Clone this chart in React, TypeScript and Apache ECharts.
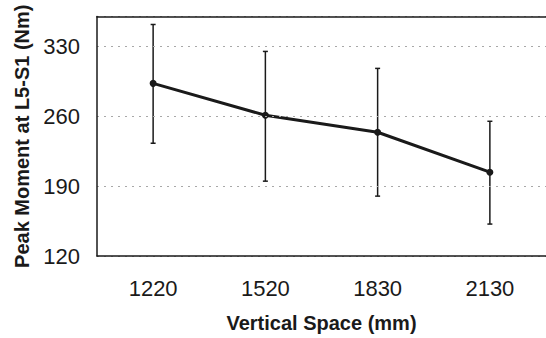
import React, { useEffect, useRef } from "react";
import * as echarts from "echarts";

const categories = ["1220", "1520", "1830", "2130"];
const means = [293, 261, 244, 204];
const upper = [352, 325, 308, 255];
const lower = [233, 195, 180, 152];
const yTicks = { min: 120, max: 360, interval: 70 };

export default function App() {
  const ref = useRef<HTMLDivElement>(null);
  useEffect(() => {
    if (!ref.current) return;
    const chart = echarts.init(ref.current, undefined, { renderer: "svg" });
    const font = "'Liberation Sans', Arial, Helvetica, sans-serif";
    const errData = categories.map((c, i) => [i, lower[i], upper[i]]);
    chart.setOption({
      animation: false,
      backgroundColor: "#ffffff",
      grid: {
        left: 97,
        top: 16.5,
        right: -10,
        bottom: 80,
        show: false,
      },
      xAxis: [
        {
          type: "category",
          data: categories,
          boundaryGap: true,
          z: 10,
          axisLine: { lineStyle: { color: "#1a1a1a", width: 1.5 } },
          axisTick: { show: false },
          axisLabel: {
            color: "#1a1a1a",
            fontSize: 22,
            fontFamily: font,
            margin: 21,
          },
          name: "Vertical Space (mm)",
          nameLocation: "middle",
          nameGap: 57,
          nameTextStyle: {
            color: "#1a1a1a",
            fontSize: 20,
            fontWeight: "bold",
            fontFamily: font,
          },
          splitLine: { show: false },
        },
        {
          type: "category",
          data: categories,
          position: "top",
          z: 10,
          axisLine: { show: true, lineStyle: { color: "#1a1a1a", width: 1.5 } },
          axisTick: { show: false },
          axisLabel: { show: false },
          splitLine: { show: false },
        },
      ],
      yAxis: {
        type: "value",
        min: yTicks.min,
        max: yTicks.max,
        interval: yTicks.interval,
        z: 10,
        axisLine: { show: true, lineStyle: { color: "#1a1a1a", width: 1.5 } },
        axisTick: { show: false },
        axisLabel: {
          color: "#1a1a1a",
          fontSize: 22,
          fontFamily: font,
          margin: 17,
          showMaxLabel: false,
        },
        splitLine: {
          show: true,
          lineStyle: { color: "#a8a8a8", type: [2, 5], width: 1 },
        },
        name: "Peak Moment at L5-S1 (Nm)",
        nameLocation: "middle",
        nameGap: 64,
        nameRotate: 90,
        nameTextStyle: {
          color: "#1a1a1a",
          fontSize: 20,
          fontWeight: "bold",
          fontFamily: font,
        },
      },
      series: [
        {
          type: "custom",
          data: errData,
          z: 3,
          renderItem: (params: any, api: any) => {
            const x = api.value(0);
            const lo = api.coord([x, api.value(1)]);
            const hi = api.coord([x, api.value(2)]);
            const cap = 2.5;
            const style = { stroke: "#1a1a1a", lineWidth: 1.5 };
            return {
              type: "group",
              children: [
                { type: "line", shape: { x1: lo[0], y1: lo[1], x2: hi[0], y2: hi[1] }, style },
                { type: "line", shape: { x1: hi[0] - cap, y1: hi[1], x2: hi[0] + cap, y2: hi[1] }, style },
                { type: "line", shape: { x1: lo[0] - cap, y1: lo[1], x2: lo[0] + cap, y2: lo[1] }, style },
              ],
            };
          },
        },
        {
          type: "line",
          data: means,
          z: 4,
          symbol: "circle",
          symbolSize: 7,
          lineStyle: { color: "#1a1a1a", width: 3 },
          itemStyle: { color: "#1a1a1a" },
        },
      ],
    });
    return () => chart.dispose();
  }, []);
  return <div ref={ref} style={{ width: 546, height: 338, position: "absolute", left: 0, top: 0 }} />;
}
